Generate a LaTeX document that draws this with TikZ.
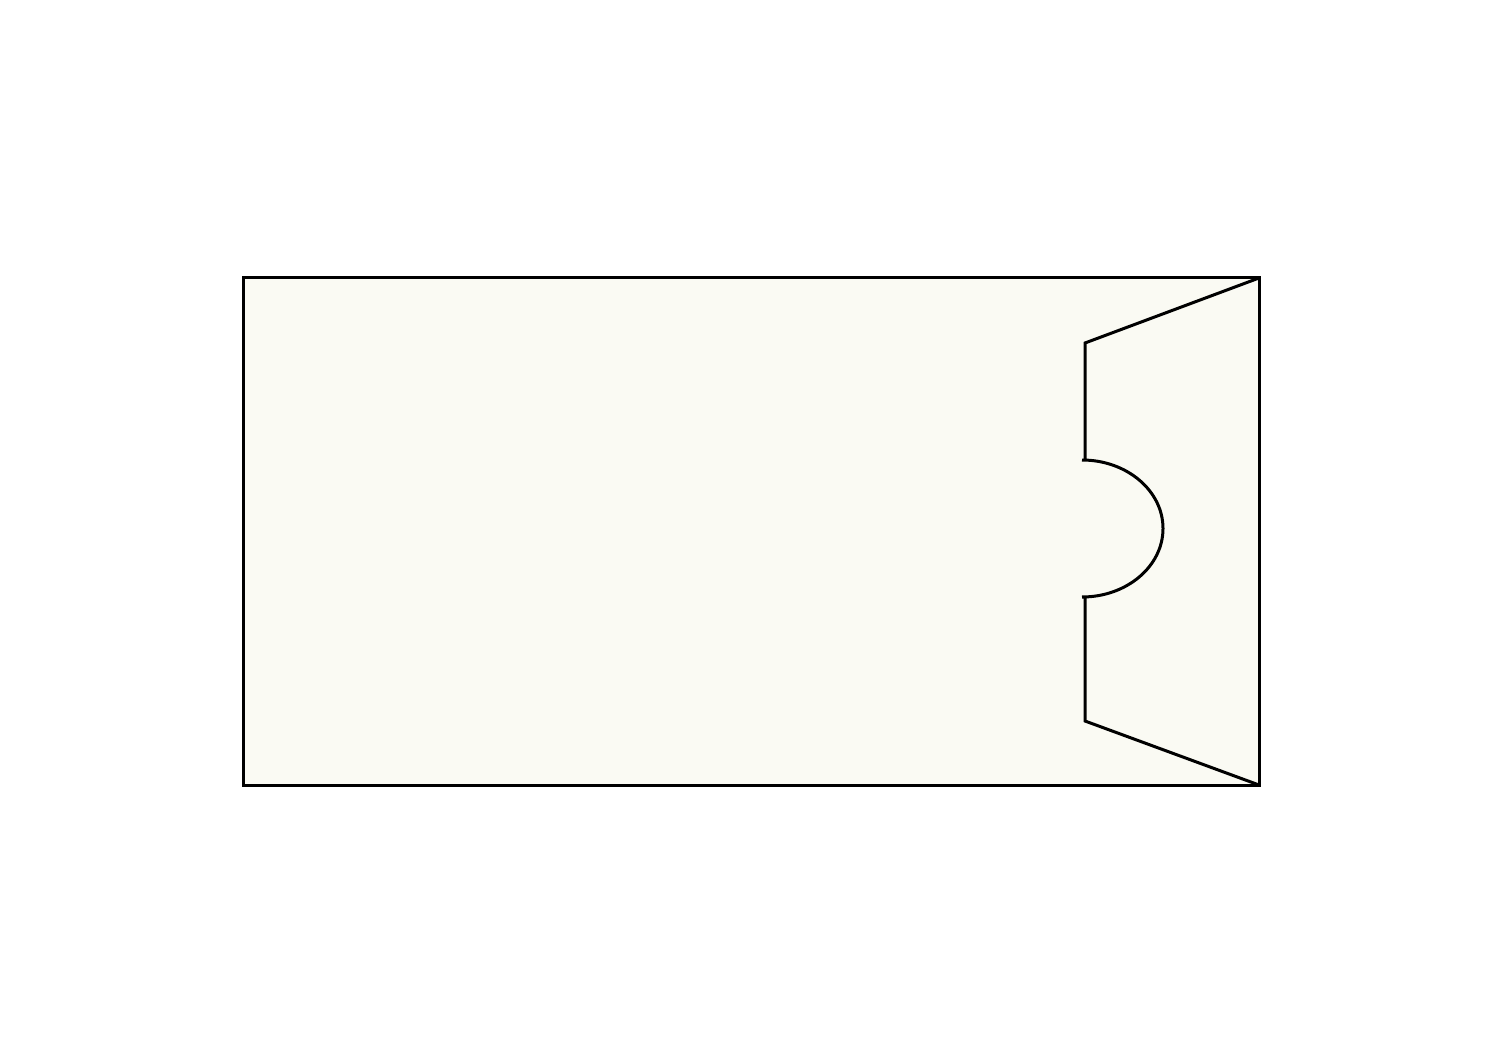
\documentclass[tikz,border=0pt]{standalone}
\definecolor{paper}{RGB}{250,250,243}
\begin{document}
\begin{tikzpicture}[x=0.5pt,y=-0.5pt,line width=1.5pt,line join=miter]
\useasboundingbox (0,0) rectangle (1502,1063);
\tikzset{outline/.style={draw=black,line width=1.5pt}}
\draw[outline,fill=paper] (243,278) rectangle (1259,785);
\draw[outline] (1259,278) -- (1085,343) -- (1085,460) -- (1082,460)
  arc[start angle=-90,end angle=90,x radius=81,y radius=68.5]
  -- (1085,597) -- (1085,721) -- (1259,785);
\end{tikzpicture}
\end{document}
